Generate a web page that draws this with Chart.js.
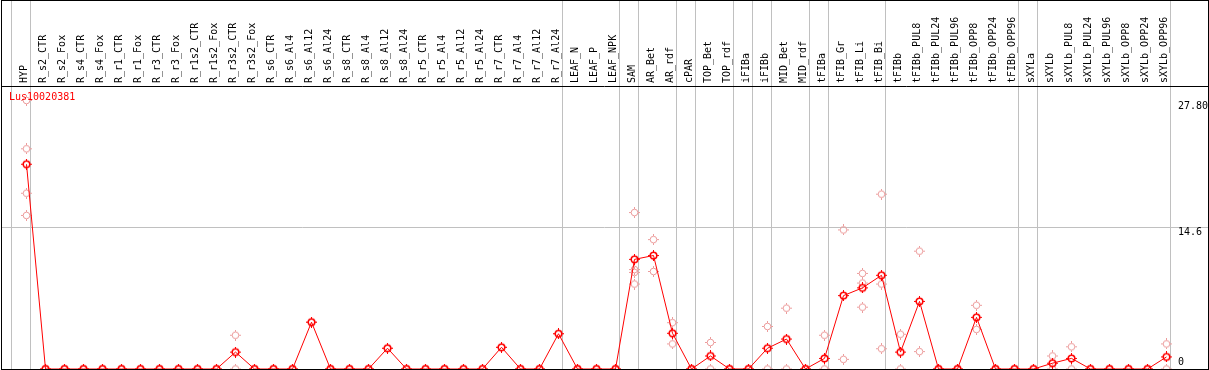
<!DOCTYPE html>
<html>
<head>
<meta charset="utf-8">
<script src="https://cdn.jsdelivr.net/npm/chart.js@4"></script>
<style>
  html, body { margin: 0; padding: 0; background: #fff; }
  #wrap { position: relative; width: 1209px; height: 370px; }
  #chart { display: block; }
  #frame { position: absolute; left: 1px; top: 0; width: 1208px; height: 370px; box-sizing: border-box; border: 1px solid #000; pointer-events: none; }
  #title { position: absolute; left: 9px; top: 91px; font: 10px 'DejaVu Sans Mono', monospace; line-height: 12px; color: #f00; }
</style>
</head>
<body>
<div id="wrap">
  <canvas id="chart" width="1209" height="370"></canvas>
  <div id="title">Lus10020381</div>
  <div id="frame"></div>
</div>
<script>
const categories = [
  'HYP',
  'R_s2_CTR', 'R_s2_Fox', 'R_s4_CTR', 'R_s4_Fox', 'R_r1_CTR', 'R_r1_Fox', 'R_r3_CTR', 'R_r3_Fox',
  'R_r1s2_CTR', 'R_r1s2_Fox', 'R_r3s2_CTR', 'R_r3s2_Fox',
  'R_s6_CTR', 'R_s6_Al4', 'R_s6_Al12', 'R_s6_Al24', 'R_s8_CTR', 'R_s8_Al4', 'R_s8_Al12', 'R_s8_Al24',
  'R_r5_CTR', 'R_r5_Al4', 'R_r5_Al12', 'R_r5_Al24', 'R_r7_CTR', 'R_r7_Al4', 'R_r7_Al12', 'R_r7_Al24',
  'LEAF_N', 'LEAF_P', 'LEAF_NPK',
  'SAM', 'AR_Bet', 'AR_rdf', 'cPAR', 'TOP_Bet', 'TOP_rdf', 'iFIBa', 'iFIBb', 'MID_Bet', 'MID_rdf',
  'tFIBa', 'tFIB_Gr', 'tFIB_Li', 'tFIB_Bi',
  'tFIBb', 'tFIBb_PUL8', 'tFIBb_PUL24', 'tFIBb_PUL96', 'tFIBb_OPP8', 'tFIBb_OPP24', 'tFIBb_OPP96',
  'sXYLa',
  'sXYLb', 'sXYLb_PUL8', 'sXYLb_PUL24', 'sXYLb_PUL96', 'sXYLb_OPP8', 'sXYLb_OPP24', 'sXYLb_OPP96'
]

// mean expression per sample (red line)
const means = [
  21.2,
  0, 0, 0, 0, 0, 0, 0, 0,
  0, 0, 1.75, 0,
  0, 0, 4.85, 0, 0, 0, 2.15, 0,
  0, 0, 0, 0, 2.25, 0, 0, 3.65,
  0, 0, 0,
  11.35, 11.75, 3.7, 0, 1.35, 0, 0, 2.15, 3.1, 0,
  1.1, 7.6, 8.4, 9.7,
  1.75, 7.0, 0, 0, 5.35, 0, 0,
  0,
  0.6, 1.1, 0, 0, 0, 0, 1.25
]

// single replicates (faded circles)
const replicates = [
  [27.8, 22.8, 18.2, 15.9],
  [0, 0], [0, 0], [0, 0], [0, 0], [0, 0], [0, 0], [0, 0], [0, 0],
  [0, 0], [0, 0], [3.5, 0], [0, 0],
  [0, 0], [0, 0], [4.85], [0, 0], [0, 0], [0, 0], [2.15], [0, 0],
  [0, 0], [0, 0], [0, 0], [0, 0], [2.25], [0, 0], [0, 0], [3.65],
  [0, 0], [0, 0], [0, 0],
  [16.2, 10.3, 10.0, 8.8], [13.4, 10.1], [4.8, 2.6], [0, 0], [2.75, 0], [0, 0], [0, 0], [4.4, 0], [6.3, 0], [0, 0],
  [3.5, 0], [14.4, 1.0], [9.9, 8.9, 6.4], [18.1, 8.8, 2.1],
  [3.6, 0], [12.2, 1.8], [0, 0], [0, 0], [6.6, 4.1], [0, 0], [0, 0],
  [0, 0],
  [1.35, 0], [2.3, 0], [0, 0], [0, 0], [0, 0], [0, 0], [2.6, 0]
]

// last sample of each group, a grey separator follows it
const groupEnds = [-1, 0, 28, 31, 32, 34, 35, 37, 38, 39, 41, 42, 45, 52, 53, 60]

const yGridValues = [0, 14.6]
const yTickLabels = ['0', '14.6', '27.80']
const yMax = 29.3

const FONT = { family: 'DejaVu Sans Mono', size: 10 }

function ring(color, width) {
    const c = document.createElement('canvas')
    c.width = 11
    c.height = 11
    const g = c.getContext('2d')
    g.strokeStyle = color
    g.lineWidth = width
    g.beginPath()
    g.arc(5.5, 5.5, 3.3, 0, Math.PI * 2)
    g.stroke()
    g.fillStyle = color
    g.fillRect(5, 0, 1, 2)
    g.fillRect(5, 9, 1, 2)
    g.fillRect(0, 5, 2, 1)
    g.fillRect(9, 5, 2, 1)
    return c
}

const lineData = means.map((v, i) => ({ x: i, y: v }))
const repData = replicates.flatMap((r, i) => r.map(v => ({ x: i, y: v })))

// label ticks sit a little off their value, like the original
const yLabelShift = [0.72, -0.42, -0.65]

function noPadding(scale) {
    scale.paddingLeft = 0
    scale.paddingRight = 0
    scale.paddingTop = 0
    scale.paddingBottom = 0
}

new Chart(document.getElementById('chart'), {
    type: 'line',
    data: {
        datasets: [{
            type: 'line',
            data: lineData,
            borderColor: '#ff0000',
            borderWidth: 1,
            tension: 0,
            pointStyle: ring('#ff0000', 1.6),
            order: 0
        }, {
            type: 'scatter',
            data: repData,
            showLine: false,
            pointStyle: ring('#ec9c9c', 1),
            order: 1
        }]
    },
    options: {
        responsive: false,
        animation: false,
        events: [],
        layout: { autoPadding: false, padding: { left: 1, right: 1, top: 0, bottom: 1 } },
        plugins: { legend: { display: false }, tooltip: { enabled: false } },
        scales: {
            x: {
                type: 'linear',
                position: 'top',
                min: -25.5 / 19,
                max: -25.5 / 19 + 1207 / 19,
                afterBuildTicks: scale => {
                    scale.ticks = categories.map((c, i) => ({ value: i }))
                        .concat(groupEnds.map(e => ({ value: e + 0.2 })))
                },
                afterFit: scale => {
                    scale.height = 86
                    noPadding(scale)
                },
                ticks: {
                    autoSkip: false,
                    minRotation: 90,
                    maxRotation: 90,
                    padding: -83,
                    labelOffset: 10,
                    font: FONT,
                    color: '#000',
                    callback: v => Number.isInteger(v) ? categories[v] : ''
                },
                grid: {
                    color: '#c0c0c0',
                    lineWidth: ctx => Number.isInteger(ctx.tick.value) ? 0 : 1,
                    drawTicks: true,
                    tickLength: 86
                },
                border: { display: true, color: '#000', width: 1 }
            },
            y: {
                type: 'linear',
                position: 'right',
                min: 0,
                max: yMax,
                afterBuildTicks: scale => {
                    scale.ticks = yGridValues.map(v => ({ value: v }))
                        .concat(yTickLabels.map((t, i) => ({ value: parseFloat(t) + yLabelShift[i] })))
                },
                afterFit: scale => {
                    scale.width = 0
                    noPadding(scale)
                },
                ticks: {
                    mirror: true,
                    crossAlign: 'far',
                    padding: 0,
                    font: FONT,
                    color: '#000',
                    callback: (v, i) => i >= yGridValues.length ? yTickLabels[i - yGridValues.length] : ''
                },
                grid: {
                    drawTicks: false,
                    color: ctx => ctx.tick && ctx.tick.value === 0 ? '#000' : '#c0c0c0',
                    lineWidth: ctx => ctx.index < yGridValues.length ? 1 : 0
                },
                border: { display: false }
            }
        }
    }
})
</script>
</body>
</html>
